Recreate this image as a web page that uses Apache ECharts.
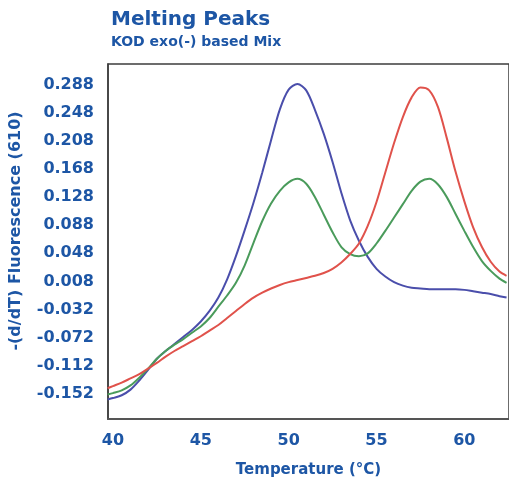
<!DOCTYPE html>
<html>
<head>
<meta charset="utf-8">
<script src="https://cdn.jsdelivr.net/npm/echarts@6/dist/echarts.min.js"></script>
<style>
  html, body { margin: 0; padding: 0; background: #ffffff; }
  #chart { width: 509px; height: 483px; }
</style>
</head>
<body>
<div id="chart"></div>
<script>
// Temperature samples (°C)
const temperature = [39.7, 40, 40.5, 41, 41.5, 42, 42.5, 43, 43.5, 44, 44.5, 45, 45.5, 46, 46.5, 47, 47.5, 48, 48.5, 49, 49.5, 50, 50.5, 51, 51.5, 52, 52.5, 53, 53.5, 54, 54.5, 55, 55.5, 56, 56.5, 57, 57.5, 58, 58.5, 59, 59.5, 60, 60.5, 61, 61.5, 62, 62.4];

// -(d/dT) Fluorescence (610) per trace
const blueTrace = [-0.160, -0.158, -0.154, -0.146, -0.133, -0.118, -0.102, -0.091, -0.081, -0.071, -0.061, -0.049, -0.034, -0.015, 0.011, 0.044, 0.081, 0.120, 0.163, 0.209, 0.253, 0.281, 0.289, 0.280, 0.252, 0.218, 0.178, 0.134, 0.095, 0.066, 0.043, 0.026, 0.015, 0.007, 0.002, -0.001, -0.002, -0.003, -0.003, -0.003, -0.003, -0.004, -0.006, -0.008, -0.010, -0.013, -0.015];
const greenTrace = [-0.153, -0.151, -0.147, -0.140, -0.129, -0.116, -0.102, -0.091, -0.082, -0.074, -0.065, -0.056, -0.044, -0.028, -0.012, 0.006, 0.031, 0.063, 0.094, 0.119, 0.137, 0.149, 0.154, 0.147, 0.128, 0.103, 0.078, 0.057, 0.047, 0.044, 0.048, 0.062, 0.080, 0.099, 0.118, 0.137, 0.150, 0.154, 0.146, 0.128, 0.104, 0.080, 0.057, 0.037, 0.023, 0.012, 0.006];
const redTrace = [-0.144, -0.141, -0.136, -0.130, -0.124, -0.116, -0.108, -0.099, -0.091, -0.084, -0.077, -0.070, -0.062, -0.054, -0.044, -0.034, -0.024, -0.015, -0.008, -0.002, 0.003, 0.007, 0.010, 0.013, 0.016, 0.020, 0.026, 0.035, 0.047, 0.062, 0.087, 0.121, 0.163, 0.205, 0.242, 0.270, 0.284, 0.280, 0.256, 0.212, 0.164, 0.122, 0.085, 0.057, 0.036, 0.022, 0.016];

// Tick labels
const xTicks = [40, 45, 50, 55, 60];
const yTicks = [-0.152, -0.112, -0.072, -0.032, 0.008, 0.048, 0.088, 0.128, 0.168, 0.208, 0.248, 0.288];

const inkBlue = '#1d56a5';
const fontFamily = '"DejaVu Sans", sans-serif';

const pairs = (ys) => temperature.map((t, i) => [t, ys[i]]);

const chart = echarts.init(document.getElementById('chart'), null, { renderer: 'canvas' });

const lineSeries = (name, ys, color) => ({
  type: 'line',
  name: name,
  data: pairs(ys),
  smooth: 0.3,
  showSymbol: false,
  lineStyle: { color: color, width: 2 }
});

chart.setOption({
  animation: false,
  backgroundColor: '#ffffff',
  title: {
    text: 'Melting Peaks',
    subtext: 'KOD exo(-) based Mix',
    left: 106,
    top: 5,
    itemGap: 5,
    textStyle: { color: inkBlue, fontSize: 20, fontWeight: 'bold', fontFamily: fontFamily },
    subtextStyle: { color: inkBlue, fontSize: 14, fontWeight: 'bold', fontFamily: fontFamily }
  },
  grid: {
    left: 108,
    top: 64,
    right: -3,
    bottom: 59.5,
    show: true,
    borderColor: '#3c3c3c',
    borderWidth: 1.5,
    backgroundColor: 'transparent'
  },
  xAxis: {
    type: 'value',
    min: 39.72,
    max: 62.54,
    splitLine: { show: false },
    axisLine: { show: true, onZero: false, lineStyle: { color: '#555555', width: 2 } },
    axisTick: { show: false },
    axisLabel: {
      customValues: xTicks,
      margin: 14,
      color: inkBlue,
      fontSize: 16,
      fontWeight: 'bold',
      fontFamily: fontFamily
    },
    name: 'Temperature (°C)',
    nameLocation: 'middle',
    nameGap: 44,
    nameTextStyle: { color: inkBlue, fontSize: 15, fontWeight: 'bold', fontFamily: fontFamily }
  },
  yAxis: {
    type: 'value',
    min: -0.1878,
    max: 0.3175,
    splitLine: { show: false },
    axisLine: { show: true, onZero: false, lineStyle: { color: '#3c3c3c', width: 1.5 } },
    axisTick: { show: false },
    axisLabel: {
      customValues: yTicks,
      margin: 14,
      color: inkBlue,
      fontSize: 16,
      fontWeight: 'bold',
      fontFamily: fontFamily,
      formatter: (v) => v.toFixed(3)
    }
  },
  graphic: [{
    type: 'text',
    x: 16,
    y: 231,
    rotation: Math.PI / 2,
    style: {
      text: '-(d/dT) Fluorescence (610)',
      fill: inkBlue,
      font: 'bold 16px "DejaVu Sans", sans-serif',
      textAlign: 'center',
      textVerticalAlign: 'middle'
    }
  }],
  series: [
    lineSeries('blue', blueTrace, '#4a4eab'),
    lineSeries('green', greenTrace, '#4a9b5b'),
    lineSeries('red', redTrace, '#e0524b')
  ]
});
</script>
</body>
</html>
